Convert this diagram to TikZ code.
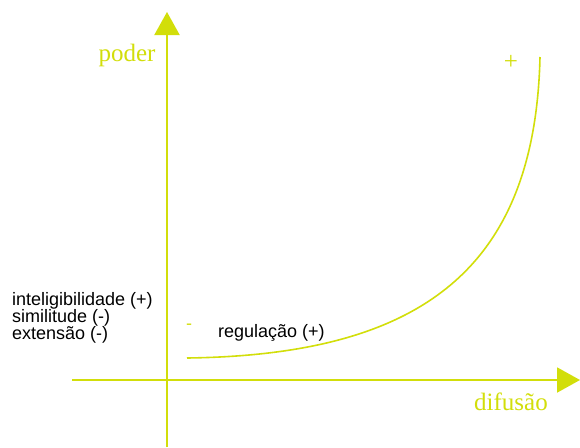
\documentclass[tikz,border=0pt]{standalone}
\usepackage{fontspec}
\setmainfont{Liberation Serif}
\setsansfont{Liberation Sans}
\usetikzlibrary{arrows.meta}
\definecolor{lima}{RGB}{210,222,10}
\begin{document}
\begin{tikzpicture}[x=1pt,y=-1pt,
  eixo/.style={lima, line width=2pt, -{Triangle[width=25pt,length=23pt]}},
  rotulo/.style={lima, font=\fontsize{25}{26}\selectfont},
  texto/.style={black, font=\sffamily\fontsize{18}{17}\selectfont, align=left, inner sep=0pt}]
\useasboundingbox (0,0) rectangle (580,447);
% eixos
\coordinate (ybase) at (167,447);
\coordinate (ytopo) at (167,12);
\coordinate (xbase) at (72,380);
\coordinate (xtopo) at (580,380);
\draw[eixo] (ybase) -- (ytopo);
\draw[eixo] (xbase) -- (xtopo);
\node[rotulo, anchor=east] (poder) at (159,55) {poder};
\node[rotulo] (difusao) at (511,402) {difusão};
% curva
\coordinate (baixo) at (187,358);
\coordinate (alto) at (540,57);
\draw[lima, line width=1.6pt] (baixo) .. controls (420,355) and (535,270) .. (alto);
\node[rotulo] (mais) at (511,62) {+};
\node[texto, lima] (menos) at (189,327) {-};
\node[texto, anchor=west] (regulacao) at (218,333) {regulação (+)};
\node[texto, anchor=west] (criterios) at (12,318) {inteligibilidade (+)\\similitude (-)\\extensão (-)};
\end{tikzpicture}
\end{document}
